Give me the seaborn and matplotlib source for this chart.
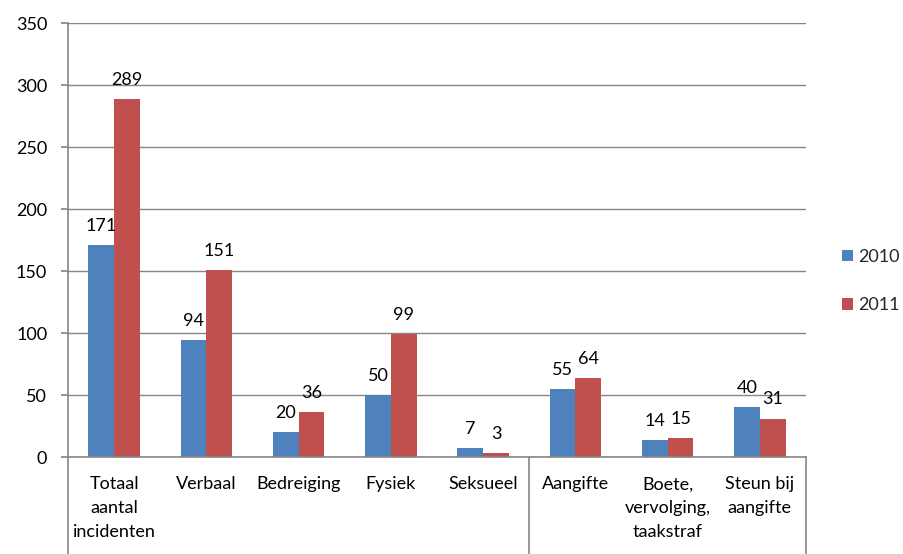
import matplotlib
matplotlib.use("Agg")
import matplotlib.pyplot as plt
import matplotlib.transforms as mtransforms
import seaborn as sns
import pandas as pd

# categories and values
categories = ['Totaal\naantal\nincidenten', 'Verbaal', 'Bedreiging', 'Fysiek', 'Seksueel',
              'Aangifte', 'Boete,\nvervolging,\ntaakstraf', 'Steun bij\naangifte']
years = ['2010', '2011']
values_2010 = [171, 94, 20, 50, 7, 55, 14, 40]
values_2011 = [289, 151, 36, 99, 3, 64, 15, 31]
group_edges = [-0.5, 4.5, 7.5]

df = pd.DataFrame({
    'categorie': categories * 2,
    'jaar': [years[0]] * len(categories) + [years[1]] * len(categories),
    'aantal': values_2010 + values_2011,
})

sns.set_theme(style="white")
plt.rcParams['font.family'] = ['Lato', 'DejaVu Sans']

grey = '#868686'
fs = 13
fig = plt.figure(figsize=(9.04, 5.54), dpi=100)
ax = fig.add_axes([68 / 904, 97 / 554, 738 / 904, 434 / 554])

sns.barplot(data=df, x='categorie', y='aantal', hue='jaar', order=categories,
            palette=['#4F81BD', '#C0504D'], width=0.56, gap=0, saturation=1,
            edgecolor='none', ax=ax, legend=True)

ax.set_ylim(0, 350)
ax.set_xlim(-0.5, 7.5)
ax.set_yticks(range(0, 351, 50))
ax.yaxis.grid(True, color=grey, linewidth=1)
ax.set_axisbelow(True)
ax.set_xlabel('')
ax.set_ylabel('')

for s in ['top', 'right']:
    ax.spines[s].set_visible(False)
for s in ['left', 'bottom']:
    ax.spines[s].set_color(grey)
    ax.spines[s].set_linewidth(1.2)

ax.tick_params(axis='y', left=True, length=5, color=grey, labelsize=fs, pad=10, labelcolor='black')
ax.tick_params(axis='x', bottom=False, labelsize=fs, pad=8, labelcolor='black')
for lab in ax.get_xticklabels():
    lab.set_linespacing(1.6)
    lab.set_verticalalignment('top')

# group separators below the category axis
trans = mtransforms.blended_transform_factory(ax.transData, ax.transAxes)
for x in group_edges:
    ax.plot([x, x], [0, -97 / 434], transform=trans, color=grey, lw=1.2, clip_on=False)

# data labels
for container in ax.containers:
    ax.bar_label(container, padding=8, fontsize=fs, color='black')

handles, labels = ax.get_legend_handles_labels()
ax.legend(handles, labels, loc='center left', bbox_to_anchor=(1.027, 0.405), frameon=False,
          fontsize=fs, handlelength=0.6, handleheight=0.6, handletextpad=0.3,
          labelspacing=1.8)

fig.savefig('out.png', dpi=100)
